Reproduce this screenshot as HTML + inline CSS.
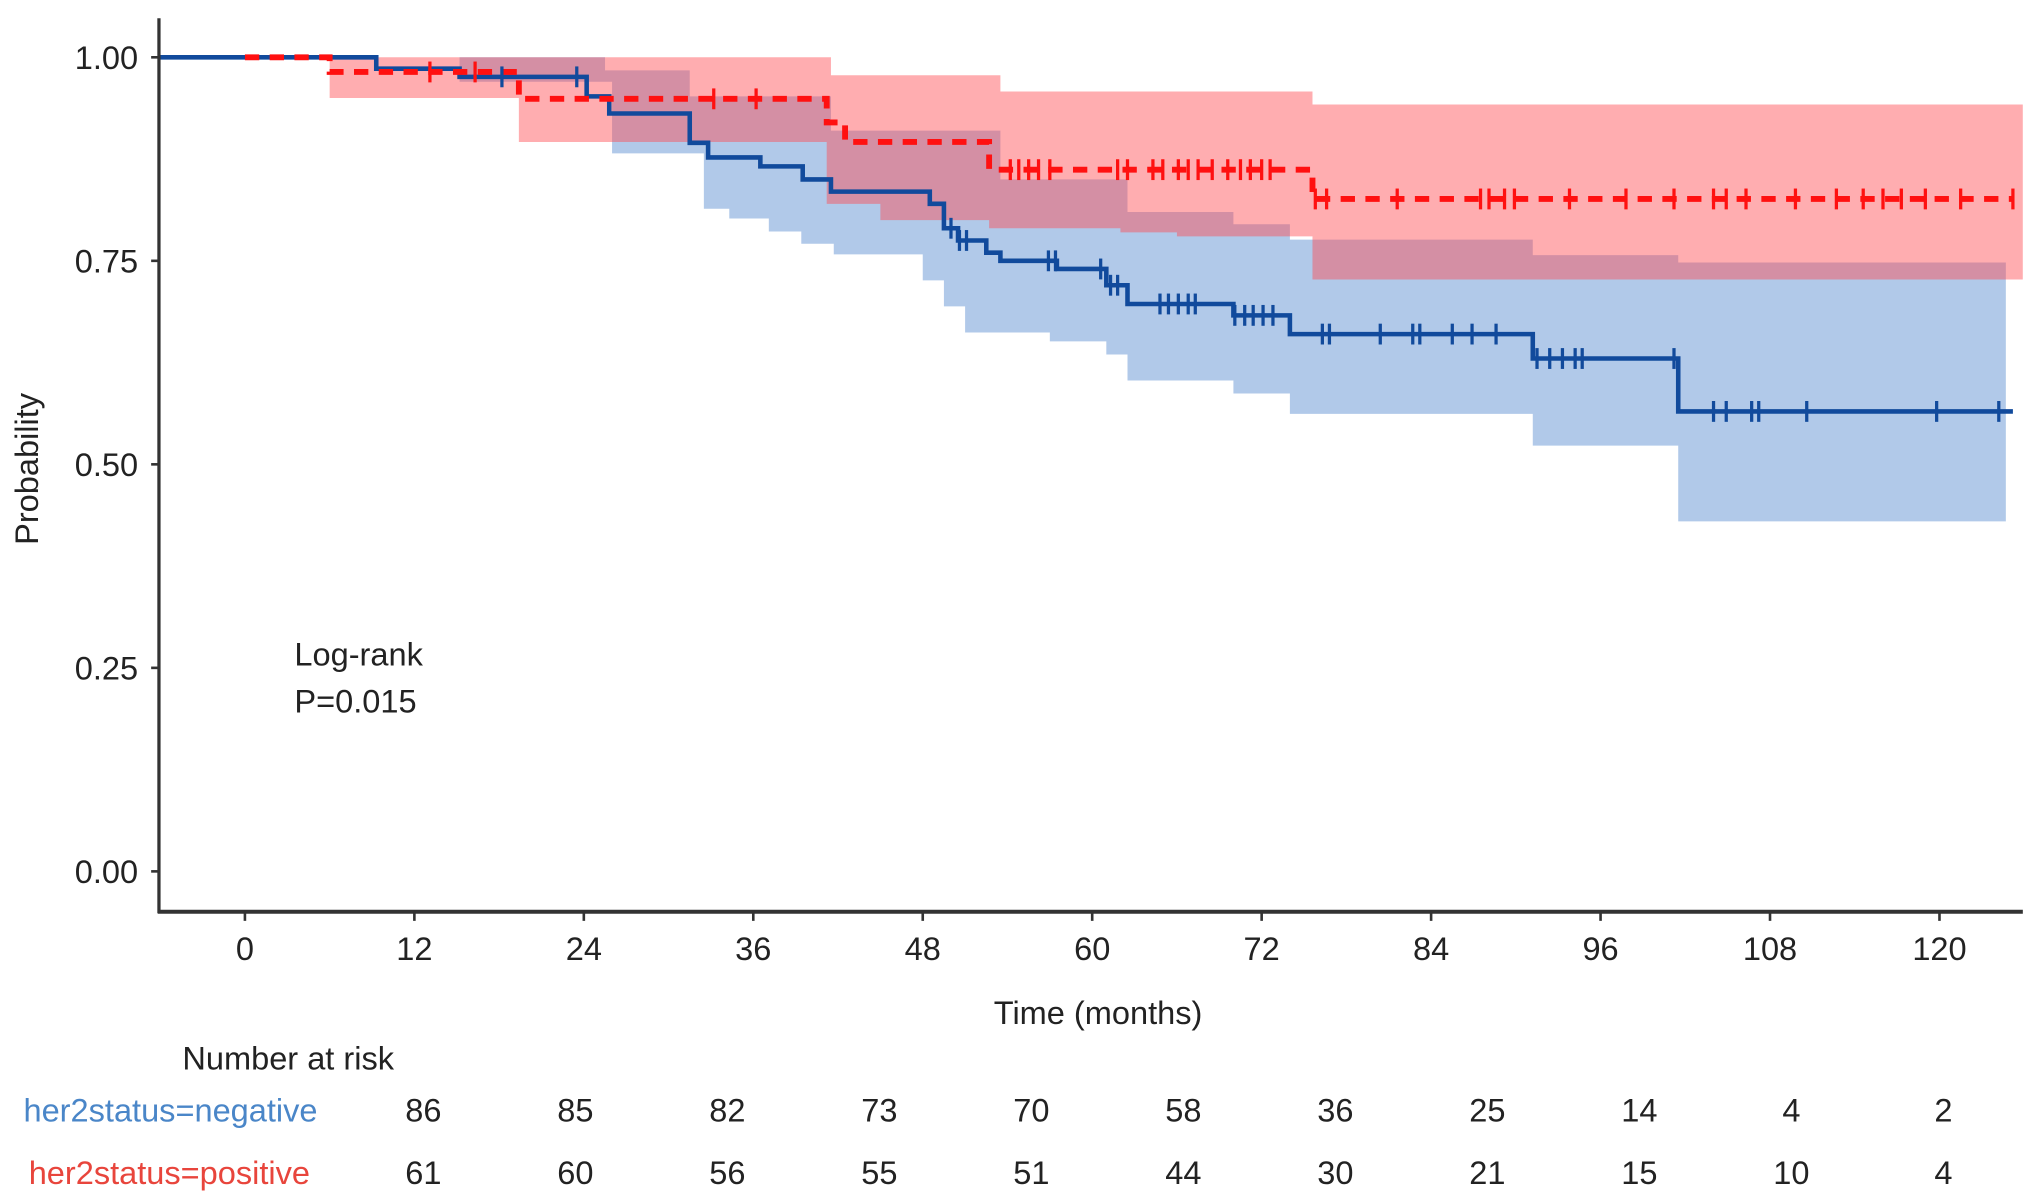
<!DOCTYPE html>
<html><head><meta charset="utf-8"><style>
html,body{margin:0;padding:0;background:#fff;}
svg{display:block;font-family:"Liberation Sans",Arial,sans-serif;}
</style></head><body>
<svg id="chart" width="2032" height="1197" viewBox="0 0 1560 919" xmlns="http://www.w3.org/2000/svg">
<g id="bands"></g><g id="lines"></g><g id="axes"></g><g id="texts"></g>
</svg>
<script>
const xTicks=[0,12,24,36,48,60,72,84,96,108,120];
const yTicks=[0,0.25,0.5,0.75,1.0];
const yTickLabels=["0.00","0.25","0.50","0.75","1.00"];
const negTimes=[-6,9.3,15.2,24.2,25.8,31.5,32.8,36.5,39.5,41.5,48.5,49.5,50.5,52.5,53.5,57.5,61,62.5,70,74,91.2,101.5];
const negSurv=[1,0.986,0.976,0.952,0.931,0.895,0.877,0.866,0.85,0.835,0.82,0.79,0.775,0.76,0.75,0.74,0.72,0.697,0.683,0.66,0.63,0.565];
const negLowTimes=[0,15.2,26,32.5,34.3,37.1,39.4,41.7,48,49.5,51,57,61,62.5,70,74,91.2,101.5];
const negLow=[1,0.97,0.882,0.814,0.802,0.786,0.771,0.758,0.726,0.694,0.662,0.651,0.635,0.603,0.587,0.562,0.523,0.43];
const negUpTimes=[0,25.5,31.5,41.5,53.5,62.5,70,74,91.2,101.5];
const negUp=[1,0.984,0.952,0.91,0.85,0.81,0.795,0.776,0.757,0.748];
const posTimes=[0,6,19.4,41.2,42.5,52.7,75.6];
const posSurv=[1,0.982,0.949,0.92,0.896,0.862,0.826];
const posLowTimes=[0,6,19.4,41.2,45,52.7,62,66,75.6];
const posLow=[1,0.95,0.896,0.82,0.8,0.79,0.785,0.78,0.727];
const posUpTimes=[0,41.5,53.5,75.6];
const posUp=[1,0.978,0.958,0.942];
const negEnd=125.2, posEnd=125.2, negBandEnd=124.7, posBandEnd=125.9;
const negCensor=[18.2,23.5,50.0,50.6,51.1,56.9,57.4,60.6,61.3,61.8,64.8,65.4,66.1,66.8,67.3,70.1,70.8,71.4,72.1,72.8,76.3,76.8,80.4,82.7,83.2,85.5,86.9,88.6,91.5,92.4,93.3,94.2,94.7,101.2,104.0,104.9,106.7,107.2,110.6,119.8,124.2];
const posCensor=[13.1,16.3,33.2,36.2,54.2,54.8,55.5,56.2,57.0,61.8,62.5,64.3,65.0,66.1,66.8,67.5,68.5,69.6,70.5,71.2,72.0,72.6,75.8,76.6,81.6,87.5,88.1,89.2,89.9,93.8,97.8,101.2,104.0,104.9,106.3,109.8,112.7,114.6,116.0,117.3,119.0,121.5,125.2];
const riskNeg=[86,85,82,73,70,58,36,25,14,4,2];
const riskPos=[61,60,56,55,51,44,30,21,15,10,4];

const X=t=>188+t*(1489-188)/120;
const Y=s=>669-s*625;
const NS="http://www.w3.org/2000/svg";
function mk(tag,parent,attrs){const e=document.createElementNS(NS,tag);for(const k in attrs)e.setAttribute(k,attrs[k]);document.getElementById(parent).appendChild(e);return e;}
function stepPts(ts,vs,end){let p=[];for(let i=0;i<ts.length;i++){if(i>0)p.push([X(ts[i]),Y(vs[i-1])]);p.push([X(ts[i]),Y(vs[i])]);}p.push([X(end),Y(vs[vs.length-1])]);return p;}
function bandPath(lt,lv,ut,uv,end){const u=stepPts(ut,uv,end),l=stepPts(lt,lv,end).reverse();return "M"+u.map(p=>p.join(",")).join("L")+"L"+l.map(p=>p.join(",")).join("L")+"Z";}

let e;
e=mk("path","bands",{d:bandPath(negLowTimes,negLow,negUpTimes,negUp,negBandEnd),fill:"#5b8fd0","fill-opacity":"0.48"});


e=mk("path","bands",{d:bandPath(posLowTimes,posLow,posUpTimes,posUp,posBandEnd),fill:"#ff4a50","fill-opacity":"0.45"});



e=mk("path","lines",{d:"M"+stepPts(negTimes,negSurv,negEnd).map(p=>p.join(",")).join("L"),fill:"none",stroke:"#114a9c","stroke-width":"3.5"});


e=mk("path","lines",{d:"M"+stepPts(posTimes,posSurv,posEnd).map(p=>p.join(",")).join("L"),fill:"none",stroke:"#ff1010","stroke-width":"4.5","stroke-dasharray":"11,8"});



function survAt(ts,vs,t){let v=vs[0];for(let i=0;i<ts.length;i++)if(ts[i]<=t)v=vs[i];return v;}
negCensor.forEach(t=>{const y=Y(survAt(negTimes,negSurv,t));
 const c=mk("line","lines",{x1:X(t),x2:X(t),y1:y-8,y2:y+8,stroke:"#114a9c","stroke-width":"2.5"});
 
 });
posCensor.forEach(t=>{const y=Y(survAt(posTimes,posSurv,t));
 const c=mk("line","lines",{x1:X(t),x2:X(t),y1:y-8,y2:y+8,stroke:"#ff1010","stroke-width":"2.5"});
 
 });

e=mk("line","axes",{x1:122,x2:122,y1:14,y2:701,stroke:"#333","stroke-width":"2.5"});


e=mk("line","axes",{x1:121,x2:1553,y1:700,y2:700,stroke:"#333","stroke-width":"3"});


yTicks.forEach((v,i)=>{
 const t=mk("line","axes",{x1:116,x2:122,y1:Y(v),y2:Y(v),stroke:"#333","stroke-width":"2"});
 
 
 const l=mk("text","texts",{x:106,y:Y(v)+9,"text-anchor":"end","font-size":"25",fill:"#222"});
 l.textContent=yTickLabels[i];
 
 });
xTicks.forEach(v=>{
 const t=mk("line","axes",{x1:X(v),x2:X(v),y1:700,y2:707,stroke:"#333","stroke-width":"2"});
 
 
 const l=mk("text","texts",{x:X(v),y:737,"text-anchor":"middle","font-size":"25",fill:"#222"});
 l.textContent=v;
 
 });
function txt(s,x,y,name,attrs){const a=Object.assign({x:x,y:y,"font-size":"25",fill:"#222"},attrs||{});const t=mk("text","texts",a);t.textContent=s;
 
 return t;}
txt("Time (months)",843,786,"x-axis-title",{"text-anchor":"middle"});
txt("Probability",29,360,"y-axis-title",{"text-anchor":"middle",transform:"rotate(-90 29 360)"});
txt("Log-rank",226,511,"logrank-label");
txt("P=0.015",226,547,"p-value-label");
txt("Number at risk",140,821,"risk-table-title");
txt("her2status=negative",18,861,"risk-row-negative-label",{fill:"#4a86c8"});
txt("her2status=positive",22,909,"risk-row-positive-label",{fill:"#e8453c"});
riskNeg.forEach((v,i)=>{txt(String(v),325+i*116.7,861,"risk-negative-count",{"text-anchor":"middle"});});
riskPos.forEach((v,i)=>{txt(String(v),325+i*116.7,909,"risk-positive-count",{"text-anchor":"middle"});});
</script>
</body></html>
